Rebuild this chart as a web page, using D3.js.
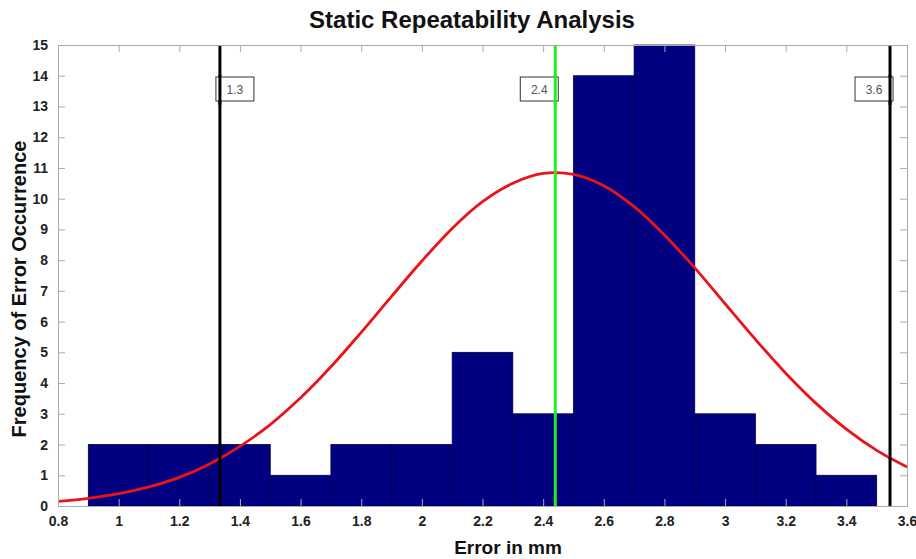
<html>
<head>
  <script src="https://d3js.org/d3.v7.min.js"></script>
  <style>
    body { margin: 0; background: #fff; font-family: 'Liberation Sans', Arial, sans-serif; }
    .tick text { font-weight: bold; fill: #222; }
  </style>
</head>
<body>
  <svg id="hist" width="916" height="559"></svg>
  <script>
    // ----- DATA -----
    const binStarts = [0.9, 1.1, 1.3, 1.5, 1.7, 1.9, 2.1, 2.3, 2.5, 2.7, 2.9, 3.1, 3.3];
    const binCounts = [2, 2, 2, 1, 2, 2, 5, 3, 14, 15, 3, 2, 1];
    const binWidth = 0.2;

    // fitted curve
    const curveX = [0.8, 0.9, 1.0, 1.1, 1.2, 1.3, 1.4, 1.5, 1.6, 1.7, 1.8, 1.9, 2.0, 2.1, 2.2, 2.3, 2.4, 2.5,
      2.6, 2.7, 2.8, 2.9, 3.0, 3.1, 3.2, 3.3, 3.4, 3.5, 3.6];
    const curveY = [0.15, 0.25, 0.40, 0.62, 0.93, 1.37, 1.94, 2.65, 3.52, 4.53, 5.65, 6.82, 7.97, 9.03, 9.9, 10.5, 10.82, 10.79,
      10.42, 9.74, 8.82, 7.75, 6.58, 5.42, 4.32, 3.34, 2.50, 1.81, 1.27];

    const markValues = [1.334, 2.44, 3.544];
    const markLabels = ["1.3", "2.4", "3.6"];
    const markColors = ["#000", "#22ee22", "#000"];

    const xTicks = [0.8, 1, 1.2, 1.4, 1.6, 1.8, 2, 2.2, 2.4, 2.6, 2.8, 3, 3.2, 3.4, 3.6];
    const yTicks = d3.range(0, 16);

    // ----- DIMENSIONS -----
    const svg = d3.select("svg#hist");
    const margin = { top: 45, right: 9, bottom: 53, left: 58 };
    const width = 916 - margin.left - margin.right;
    const height = 559 - margin.top - margin.bottom;

    const chart = svg.append("g")
      .attr("transform", `translate(${margin.left},${margin.top})`);

    // ----- SCALES -----
    const xScale = d3.scaleLinear().domain([0.8, 3.6]).range([0, width]);
    const yScale = d3.scaleLinear().domain([0, 15]).range([height, 0]);

    // ----- BARS -----
    const bins = binStarts.map((s, i) => ({ x0: s, x1: s + binWidth, n: binCounts[i] }));
    chart.selectAll("rect.bar")
      .data(bins)
      .join("rect").attr("class", "bar")
      .attr("x", d => xScale(d.x0))
      .attr("width", d => xScale(d.x1) - xScale(d.x0))
      .attr("y", d => yScale(d.n))
      .attr("height", d => yScale(0) - yScale(d.n))
      .attr("fill", "#000080")
      .attr("stroke", "#00004a")
      .attr("stroke-width", 0.8);

    // ----- CURVE -----
    const line = d3.line()
      .x((d, i) => xScale(curveX[i]))
      .y(d => yScale(d))
      .curve(d3.curveCatmullRom);
    chart.append("path")
      .datum(curveY)
      .attr("d", line)
      .attr("fill", "none")
      .attr("stroke", "#e8141a")
      .attr("stroke-width", 2.8);

    // ----- MARK LINES -----
    chart.selectAll("line.mark")
      .data(markValues)
      .join("line").attr("class", "mark")
      .attr("x1", d => xScale(d)).attr("x2", d => xScale(d))
      .attr("y1", 0).attr("y2", height)
      .attr("stroke", (d, i) => markColors[i])
      .attr("stroke-width", 3);

    const labelG = chart.selectAll("g.markLabel")
      .data(markValues)
      .join("g").attr("class", "markLabel")
      .attr("transform", (d, i) => {
        const bx = i === 0 ? xScale(d) - 4 : xScale(d) - 35;
        return `translate(${bx},${32})`;
      });
    labelG.append("rect")
      .attr("width", 38).attr("height", 24)
      .attr("fill", "#fff")
      .attr("stroke", "#333")
      .attr("stroke-width", 1);
    labelG.append("text")
      .attr("x", 19).attr("y", 16.5)
      .attr("text-anchor", "middle")
      .attr("font-size", "12px")
      .attr("fill", "#555")
      .text((d, i) => markLabels[i]);
    // redraw lines over the label boxes
    chart.selectAll("line.mark2")
      .data(markValues)
      .join("line").attr("class", "mark2")
      .attr("x1", d => xScale(d)).attr("x2", d => xScale(d))
      .attr("y1", 30).attr("y2", 60)
      .attr("stroke", (d, i) => markColors[i])
      .attr("stroke-width", 3);

    // ----- AXES -----
    const fmt = d => String(+d.toFixed(1));
    const axisStyle = g => {
      g.select(".domain").attr("stroke", "#aaa");
      g.selectAll(".tick line").attr("stroke", "#aaa");
    };
    chart.append("g")
      .attr("transform", `translate(0,${height})`)
      .call(d3.axisBottom(xScale).tickValues(xTicks).tickFormat(fmt).tickSize(-7).tickSizeOuter(0).tickPadding(10))
      .call(axisStyle)
      .call(g => g.selectAll(".tick text").attr("font-size", "14px").attr("font-family", "'Liberation Sans', Arial, sans-serif"));
    chart.append("g")
      .call(d3.axisTop(xScale).tickValues(xTicks).tickFormat("").tickSize(-7).tickSizeOuter(0))
      .call(axisStyle);
    chart.append("g")
      .call(d3.axisLeft(yScale).tickValues(yTicks).tickFormat(d3.format("d")).tickSize(-7).tickSizeOuter(0).tickPadding(10))
      .call(axisStyle)
      .call(g => g.selectAll(".tick text").attr("font-size", "14px").attr("font-family", "'Liberation Sans', Arial, sans-serif"));
    chart.append("g")
      .attr("transform", `translate(${width},0)`)
      .call(d3.axisRight(yScale).tickValues(yTicks).tickFormat("").tickSize(-7).tickSizeOuter(0))
      .call(axisStyle);

    // ----- TITLES -----
    svg.append("text")
      .attr("x", 472).attr("y", 28)
      .attr("text-anchor", "middle")
      .attr("font-size", "24px").attr("font-weight", "bold")
      .attr("fill", "#111")
      .text("Static Repeatability Analysis");
    svg.append("text")
      .attr("x", 508).attr("y", 554)
      .attr("text-anchor", "middle")
      .attr("font-size", "19px").attr("font-weight", "bold")
      .attr("fill", "#111")
      .text("Error in mm");
    svg.append("text")
      .attr("transform", "translate(26,289) rotate(-90)")
      .attr("text-anchor", "middle")
      .attr("font-size", "20px").attr("font-weight", "bold")
      .attr("fill", "#111")
      .text("Frequency of Error Occurrence");
  </script>
</body>
</html>
